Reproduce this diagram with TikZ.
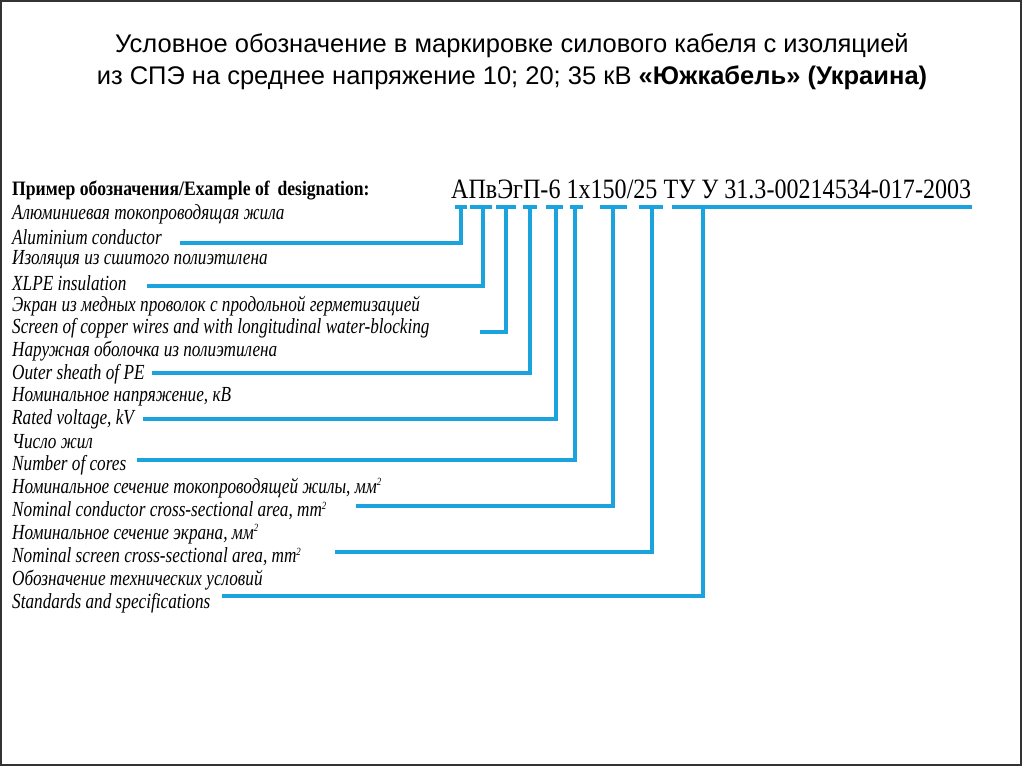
\documentclass[tikz,border=0pt]{standalone}
\usepackage{fontspec}
\setmainfont{Liberation Serif}
\newfontfamily\ttl{Liberation Sans}
\newfontfamily\cond[FakeStretch=0.80]{Liberation Serif}
\newfontfamily\condb[FakeStretch=0.86]{Liberation Serif}
\definecolor{cblue}{RGB}{27,163,222}
\newcommand{\sqr}{\raisebox{0.8ex}{\fontsize{11}{11}\selectfont 2}}
\begin{document}
\begin{tikzpicture}[x=1pt,y=-1pt,
  lbl/.style={anchor=west,inner sep=0pt,font=\fontsize{21.5}{21.5}\cond\itshape},
  wire/.style={draw=cblue,line width=4pt},
  seg/.style={draw=cblue,line width=4pt}]
\useasboundingbox (0,0) rectangle (1024,768);
\draw[line width=1.2pt,black!80] (1,1) rectangle (1021,765);
\node[font=\fontsize{25.5}{32}\ttl,align=center] (title) at (512,62)
 {Условное обозначение в маркировке силового кабеля с изоляцией\\из СПЭ на среднее напряжение 10; 20; 35 кВ \textbf{«Южкабель» (Украина)}};
\node[anchor=west,inner sep=0pt,font=\fontsize{20.5}{20}\condb\bfseries] (hd) at (12,190) {Пример обозначения/Example of\, designation:};
\node[anchor=west,inner sep=0pt,font=\fontsize{28}{28}\condb] (code) at (451,189) {АПвЭгП-6 1x150/25 ТУ У 31.3-00214534-017-2003};
\node[lbl] (l1) at (12,214) {Алюминиевая токопроводящая жила};
\node[lbl] (l2) at (12,237) {Aluminium conductor};
\node[lbl] (l3) at (12,260) {Изоляция из сшитого полиэтилена};
\node[lbl] (l4) at (12,283) {XLPE insulation};
\node[lbl] (l5) at (12,306) {Экран из медных проволок с продольной герметизацией};
\node[lbl] (l6) at (12,328) {Screen of copper wires and with longitudinal water-blocking};
\node[lbl] (l7) at (12,351) {Наружная оболочка из полиэтилена};
\node[lbl] (l8) at (12,374) {Outer sheath of PE};
\node[lbl] (l9) at (12,397) {Номинальное напряжение, кВ};
\node[lbl] (l10) at (12,419) {Rated voltage, kV};
\node[lbl] (l11) at (12,442) {Число жил};
\node[lbl] (l12) at (12,465) {Number of cores};
\node[lbl] (l13) at (12,488) {Номинальное сечение токопроводящей жилы, мм\sqr};
\node[lbl] (l14) at (12,511) {Nominal conductor cross-sectional area, mm\sqr};
\node[lbl] (l15) at (12,534) {Номинальное сечение экрана, мм\sqr};
\node[lbl] (l16) at (12,557) {Nominal screen cross-sectional area, mm\sqr};
\node[lbl] (l17) at (12,580) {Обозначение технических условий};
\node[lbl] (l18) at (12,603) {Standards and specifications};
\foreach \a/\b in {455/467,470/492,496/516,523/537,546/563,570/583,600/627,639/663,672/972}
  \draw[seg] (\a,207) -- (\b,207);
\coordinate (e1) at (180,243); \coordinate (v1) at (461,207);
\coordinate (e2) at (147,286); \coordinate (v2) at (483,207);
\coordinate (e3) at (480,332); \coordinate (v3) at (506,207);
\coordinate (e4) at (152,373); \coordinate (v4) at (530,207);
\coordinate (e5) at (143,419); \coordinate (v5) at (556,207);
\coordinate (e6) at (137,460); \coordinate (v6) at (575,207);
\coordinate (e7) at (356,506); \coordinate (v7) at (613,207);
\coordinate (e8) at (335,552); \coordinate (v8) at (652,207);
\coordinate (e9) at (222,596); \coordinate (v9) at (703,207);
\foreach \i in {1,...,9} \draw[wire,line join=miter] (v\i) |- (e\i);
\end{tikzpicture}
\end{document}
